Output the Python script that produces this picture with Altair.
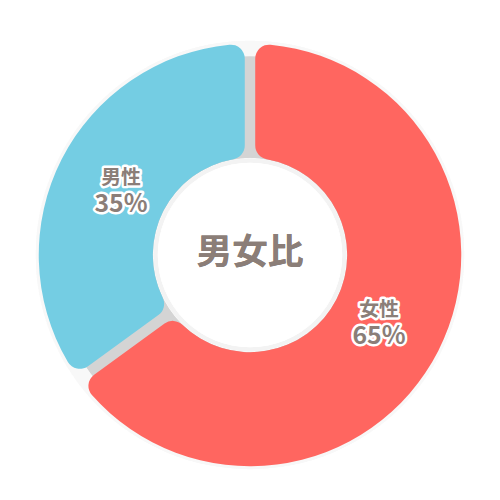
import altair as alt
import pandas as pd

labels = ["女性", "男性"]
values = [65, 35]
pct_labels = ["65%", "35%"]
colors = ["#FF6660", "#74CDE3"]
order = [0, 1]
center_title = "男女比"

df = pd.DataFrame({"label": labels, "value": values, "pct": pct_labels, "ord": order})

CX, CY = 244, 247
FONT = "Noto Sans CJK JP"
TXT = "#8B7E78"

base = alt.Chart(df).encode(
    theta=alt.Theta("value:Q", stack=True),
    order=alt.Order("ord:O"),
    x=alt.value(CX),
    y=alt.value(CY),
)

outer_glow = alt.Chart(df).mark_arc(
    theta=0, theta2=6.2832, innerRadius=95, outerRadius=216, color="#f8f8f8"
).encode(x=alt.value(CX), y=alt.value(CY))

shadow = alt.Chart(df).mark_arc(
    theta=0, theta2=6.2832, innerRadius=98, outerRadius=200, color="#d4d4d4"
).encode(x=alt.value(CX), y=alt.value(CY))

arcs = base.mark_arc(
    innerRadius=98, outerRadius=213, cornerRadius=14, padAngle=0.045
).encode(
    color=alt.Color("label:N", scale=alt.Scale(domain=labels, range=colors), legend=None)
)

hole_shadow = alt.Chart(df).mark_arc(
    theta=0, theta2=6.2832, innerRadius=0, outerRadius=97, color="#f3f3f3"
).encode(x=alt.value(CX), y=alt.value(CY))

hole = alt.Chart(df).mark_arc(
    theta=0, theta2=6.2832, innerRadius=0, outerRadius=93, color="white"
).encode(x=alt.value(CX), y=alt.value(CY))

name_stroke = base.mark_text(
    radius=146, dy=-11, font=FONT, fontSize=20, fontWeight="bold",
    stroke="white", strokeWidth=5, strokeJoin="round", color="white"
).encode(text="label:N")
name_txt = base.mark_text(
    radius=146, dy=-11, font=FONT, fontSize=20, fontWeight="bold", color=TXT
).encode(text="label:N")

pct_stroke = base.mark_text(
    radius=146, dy=15, font=FONT, fontSize=25, fontWeight="bold",
    stroke="white", strokeWidth=5, strokeJoin="round", color="white"
).encode(text="pct:N")
pct_txt = base.mark_text(
    radius=146, dy=15, font=FONT, fontSize=25, fontWeight="bold", color=TXT
).encode(text="pct:N")

title_txt = alt.Chart(df).mark_text(
    text=center_title, font=FONT, fontSize=36, fontWeight="bold", color=TXT
).encode(x=alt.value(CX), y=alt.value(CY - 2))

chart = alt.layer(
    outer_glow, shadow, arcs, hole_shadow, hole,
    name_stroke, name_txt, pct_stroke, pct_txt, title_txt
).properties(
    width=488, height=488, padding=0, autosize="none"
).configure_view(stroke=None)

chart.save("out.html", embed_options={"renderer": "svg", "actions": False})
